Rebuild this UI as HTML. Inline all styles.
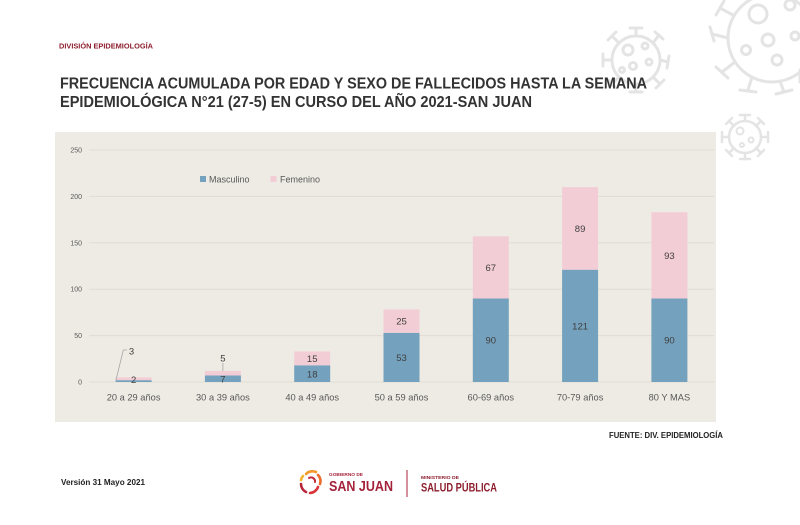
<!DOCTYPE html>
<html><head><meta charset="utf-8"><style>
html,body{margin:0;padding:0;background:#fff;}
svg{display:block;}
</style></head><body>
<svg width="800" height="525" viewBox="0 0 800 525" xmlns="http://www.w3.org/2000/svg" font-family="Liberation Sans, sans-serif">
<rect width="800" height="525" fill="#fff"/>
<!-- virus decorations -->
<g fill="none" stroke="#e4e4e4" stroke-width="3" stroke-linecap="round">
  <!-- large -->
  <circle cx="772" cy="38" r="44"/>
  <g>
    <line x1="728" y1="38" x2="712" y2="34"/><line x1="710" y1="27" x2="714" y2="41"/>
    <line x1="735" y1="62" x2="722" y2="72"/><line x1="716" y1="67" x2="728" y2="78"/>
    <line x1="752" y1="77" x2="748" y2="90"/><line x1="740" y1="90" x2="756" y2="92"/>
    <line x1="780" y1="81" x2="784" y2="92"/><line x1="776" y1="94" x2="792" y2="90"/>
    <line x1="733" y1="15" x2="720" y2="8"/><line x1="716" y1="15" x2="724" y2="1"/>
    <line x1="800" y1="70" x2="800" y2="82"/>
  </g>
  <circle cx="758" cy="14" r="9"/><circle cx="790" cy="5" r="5"/>
  <circle cx="768" cy="40" r="6"/><circle cx="746" cy="50" r="4.5"/>
  <circle cx="777" cy="60" r="5"/><circle cx="795" cy="36" r="4"/>
  <!-- medium -->
  <circle cx="636" cy="60" r="24"/>
  <g>
    <line x1="612" y1="60" x2="603" y2="60"/><line x1="603" y1="54" x2="603" y2="66"/>
    <line x1="660" y1="60" x2="668" y2="62"/><line x1="669" y1="56" x2="667" y2="68"/>
    <line x1="636" y1="36" x2="636" y2="28"/><line x1="630" y1="28" x2="642" y2="28"/>
    <line x1="636" y1="84" x2="636" y2="92"/><line x1="630" y1="92" x2="642" y2="92"/>
    <line x1="619" y1="43" x2="612" y2="36"/><line x1="608" y1="40" x2="616" y2="32"/>
    <line x1="653" y1="43" x2="659" y2="35"/><line x1="655" y1="32" x2="663" y2="39"/>
    <line x1="619" y1="77" x2="612" y2="84"/><line x1="608" y1="80" x2="616" y2="88"/>
    <line x1="653" y1="77" x2="660" y2="84"/><line x1="656" y1="88" x2="664" y2="80"/>
  </g>
  <circle cx="628" cy="50" r="5"/><circle cx="645" cy="46" r="3"/><circle cx="649" cy="62" r="3"/>
  <circle cx="633" cy="66" r="3.5"/><circle cx="622" cy="70" r="2.5"/>
  <!-- small -->
  <circle cx="745" cy="137" r="16" stroke-width="2.5"/>
  <g stroke-width="2.5">
    <line x1="729" y1="137" x2="722" y2="137"/><line x1="722" y1="132" x2="722" y2="142"/>
    <line x1="761" y1="137" x2="768" y2="137"/><line x1="768" y1="132" x2="768" y2="142"/>
    <line x1="745" y1="121" x2="745" y2="115"/><line x1="740" y1="115" x2="750" y2="115"/>
    <line x1="745" y1="153" x2="745" y2="159"/><line x1="740" y1="159" x2="750" y2="159"/>
    <line x1="734" y1="126" x2="729" y2="121"/><line x1="726" y1="124" x2="732" y2="118"/>
    <line x1="756" y1="126" x2="761" y2="121"/><line x1="758" y1="118" x2="764" y2="124"/>
    <line x1="734" y1="148" x2="729" y2="153"/><line x1="726" y1="150" x2="732" y2="156"/>
    <line x1="756" y1="148" x2="761" y2="153"/><line x1="758" y1="156" x2="764" y2="150"/>
  </g>
  <circle cx="740" cy="131" r="3.5" stroke-width="2"/><circle cx="751" cy="140" r="2.5" stroke-width="2"/><circle cx="742" cy="145" r="2" stroke-width="2"/>
</g>

<!-- header -->
<text x="59" y="48.7" font-size="7" font-weight="bold" fill="#8c1d2d" textLength="94" lengthAdjust="spacingAndGlyphs">DIVISIÓN EPIDEMIOLOGÍA</text>
<text x="60" y="88.5" font-size="16" font-weight="bold" fill="#333" textLength="587" lengthAdjust="spacingAndGlyphs">FRECUENCIA ACUMULADA POR EDAD Y SEXO DE FALLECIDOS HASTA LA SEMANA</text>
<text x="60" y="107" font-size="16" font-weight="bold" fill="#333" textLength="472" lengthAdjust="spacingAndGlyphs">EPIDEMIOLÓGICA N°21 (27-5) EN CURSO DEL AÑO 2021-SAN JUAN</text>

<!-- chart panel -->
<rect x="55" y="132" width="661" height="290" fill="#eeebe4"/>
<g stroke="#e0dcd3" stroke-width="1">
  <line x1="89" y1="150" x2="714" y2="150"/>
  <line x1="89" y1="196.4" x2="714" y2="196.4"/>
  <line x1="89" y1="242.8" x2="714" y2="242.8"/>
  <line x1="89" y1="289.2" x2="714" y2="289.2"/>
  <line x1="89" y1="335.6" x2="714" y2="335.6"/>
  <line x1="89" y1="382" x2="714" y2="382"/>
</g>
<g font-size="7" fill="#595959" text-anchor="end">
  <text x="82" y="152.5">250</text>
  <text x="82" y="198.9">200</text>
  <text x="82" y="245.3">150</text>
  <text x="82" y="291.7">100</text>
  <text x="82" y="338.1">50</text>
  <text x="82" y="384.5">0</text>
</g>
<!-- legend -->
<rect x="200" y="176" width="6" height="6" fill="#74a1bd"/>
<text x="209" y="182.5" font-size="9" fill="#595959">Masculino</text>
<rect x="270.5" y="176" width="6" height="6" fill="#f3cdd6"/>
<text x="280" y="182.5" font-size="9" fill="#595959">Femenino</text>

<!-- bars -->
<g>
  <rect x="115.6" y="380.1" width="36" height="1.9" fill="#74a1bd"/>
  <rect x="115.6" y="377.4" width="36" height="2.8" fill="#f3cdd6"/>
  <rect x="204.9" y="375.5" width="36" height="6.5" fill="#74a1bd"/>
  <rect x="204.9" y="370.9" width="36" height="4.6" fill="#f3cdd6"/>
  <rect x="294.2" y="365.3" width="36" height="16.7" fill="#74a1bd"/>
  <rect x="294.2" y="351.4" width="36" height="13.9" fill="#f3cdd6"/>
  <rect x="383.5" y="332.8" width="36" height="49.2" fill="#74a1bd"/>
  <rect x="383.5" y="309.6" width="36" height="23.2" fill="#f3cdd6"/>
  <rect x="472.8" y="298.5" width="36" height="83.5" fill="#74a1bd"/>
  <rect x="472.8" y="236.3" width="36" height="62.2" fill="#f3cdd6"/>
  <rect x="562.1" y="269.7" width="36" height="112.3" fill="#74a1bd"/>
  <rect x="562.1" y="187.1" width="36" height="82.6" fill="#f3cdd6"/>
  <rect x="651.4" y="298.5" width="36" height="83.5" fill="#74a1bd"/>
  <rect x="651.4" y="212.2" width="36" height="86.3" fill="#f3cdd6"/>
</g>
<!-- leader lines -->
<g stroke="#a6a6a6" stroke-width="0.8" fill="none">
  <polyline points="116,380 123.3,350 127,350"/>
  <line x1="222.9" y1="363" x2="222.9" y2="371"/>
</g>
<!-- data labels -->
<g font-size="9.5" fill="#404040" text-anchor="middle">
  <text x="131.5" y="354.5">3</text>
  <text x="133.6" y="383">2</text>
  <text x="222.9" y="361.5">5</text>
  <text x="222.9" y="382.5">7</text>
  <text x="312.2" y="377.5">18</text>
  <text x="312.2" y="361.8">15</text>
  <text x="401.5" y="360.8">53</text>
  <text x="401.5" y="324.6">25</text>
  <text x="490.8" y="343.7">90</text>
  <text x="490.8" y="270.8">67</text>
  <text x="580.1" y="329.3">121</text>
  <text x="580.1" y="231.8">89</text>
  <text x="669.4" y="343.7">90</text>
  <text x="669.4" y="258.8">93</text>
</g>
<!-- category labels -->
<g font-size="9.3" fill="#595959" text-anchor="middle">
  <text x="133.6" y="400.5">20 a 29 años</text>
  <text x="222.9" y="400.5">30 a 39 años</text>
  <text x="312.2" y="400.5">40 a 49 años</text>
  <text x="401.5" y="400.5">50 a 59 años</text>
  <text x="490.8" y="400.5">60-69 años</text>
  <text x="580.1" y="400.5">70-79 años</text>
  <text x="669.4" y="400.5">80 Y MAS</text>
</g>

<!-- footer -->
<text x="609" y="438" font-size="8" font-weight="bold" fill="#222" textLength="114" lengthAdjust="spacingAndGlyphs">FUENTE: DIV. EPIDEMIOLOGÍA</text>
<text x="61" y="485" font-size="8" font-weight="bold" fill="#222" textLength="84" lengthAdjust="spacingAndGlyphs">Versión 31 Mayo 2021</text>

<!-- San Juan logo -->
<g fill="none" stroke-width="2.6" stroke-linecap="round">
  <path d="M306 474 A9 9 0 0 1 316 472" stroke="#f39a2b"/>
  <path d="M318 475 A9 9 0 0 1 320 484" stroke="#ee6b2b"/>
  <path d="M318 487 A9 9 0 0 1 310 493" stroke="#d9343a"/>
  <path d="M306 492 A9 9 0 0 1 301 484" stroke="#b8263c"/>
  <path d="M301 480 A9 9 0 0 1 303 476" stroke="#f2b52f"/>
  <path d="M309 478 A4 4 0 0 1 315 482" stroke="#c42a3a" stroke-width="2"/>
</g>
<text x="329" y="476" font-size="4.5" font-weight="bold" fill="#a4233a" textLength="34" lengthAdjust="spacingAndGlyphs">GOBIERNO DE</text>
<text x="329" y="491" font-size="15" font-weight="bold" fill="#a4233a" textLength="64" lengthAdjust="spacingAndGlyphs">SAN JUAN</text>
<line x1="407" y1="470" x2="407" y2="497" stroke="#a4233a" stroke-width="1"/>
<text x="421" y="479" font-size="4.5" font-weight="bold" fill="#8c1d2d" textLength="38" lengthAdjust="spacingAndGlyphs">MINISTERIO DE</text>
<text x="421" y="491.5" font-size="12" font-weight="bold" fill="#8c1d2d" textLength="76" lengthAdjust="spacingAndGlyphs">SALUD PÚBLICA</text>
</svg>
</body></html>
